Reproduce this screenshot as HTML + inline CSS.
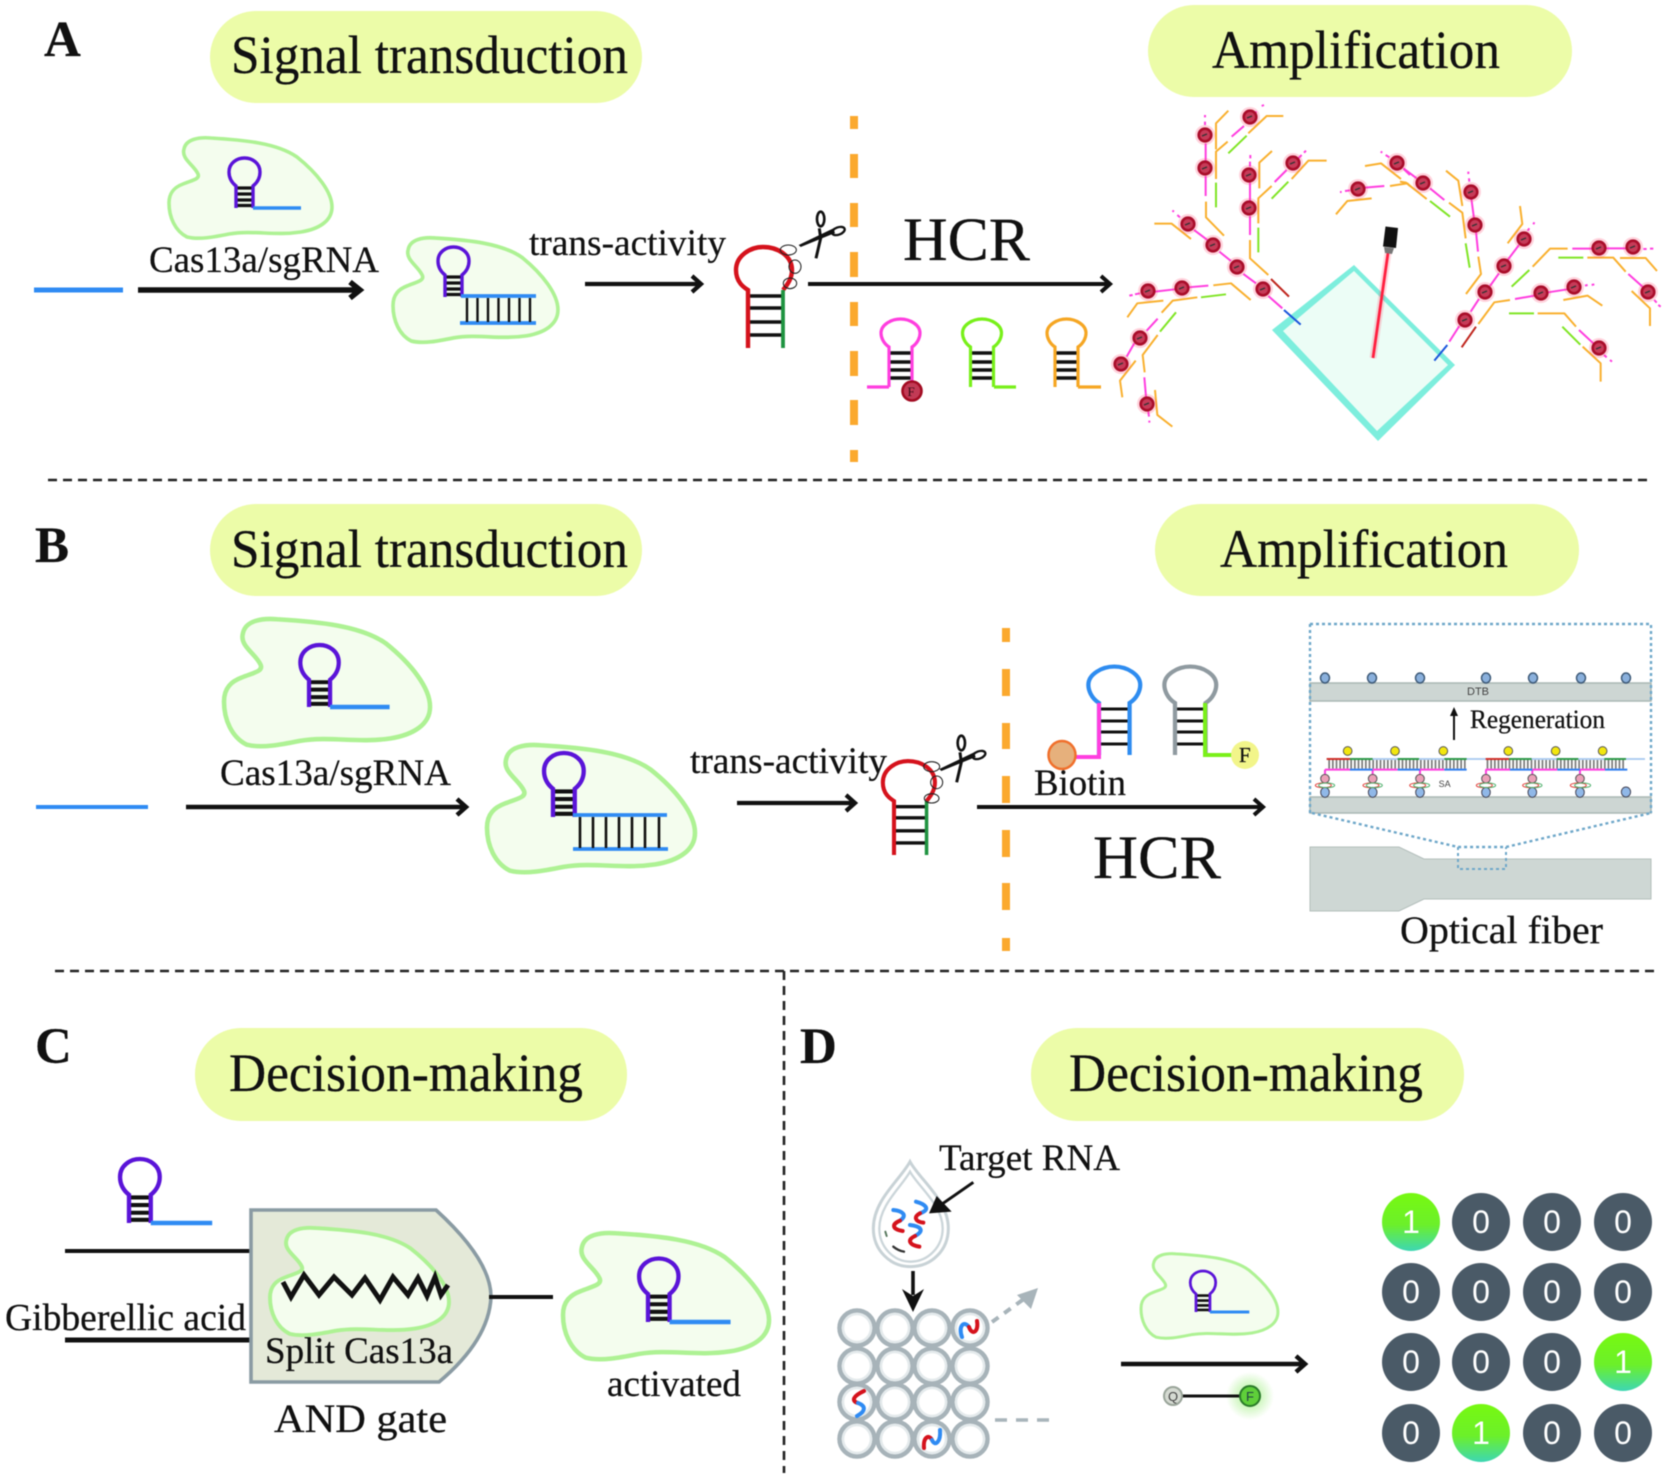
<!DOCTYPE html>
<html>
<head>
<meta charset="utf-8">
<style>
html,body{margin:0;padding:0;background:#fff}
svg{display:block;filter:blur(.45px)}
text{font-family:"Liberation Serif",serif;fill:#111;stroke:#111;stroke-width:.25px}
.b{font-weight:bold;font-size:51px}
.h{font-size:54px}
.m{font-size:37px}
.o{stroke:#f9b02f;stroke-width:6;fill:none;stroke-linejoin:round}
.g{stroke:#80e526;stroke-width:6;fill:none}
.p{stroke:#ff3edf;stroke-width:6;fill:none}
.r{stroke:#c0271f;stroke-width:6;fill:none}
.bl{stroke:#1a55dc;stroke-width:6;fill:none}
.w{fill:#fff;stroke:none;font-family:"Liberation Sans",sans-serif}
</style>
</head>
<body>
<svg xmlns="http://www.w3.org/2000/svg" width="1673" height="1478" viewBox="0 0 1673 1478">
<defs>
<path id="blob" d="M15,12 C17,2 30,0 42,1 C75,3 108,6 128,20 C148,36 163,55 163,70 C163,84 150,92 132,95 C105,99 85,93 60,97 C45,100 30,103 18,100 C6,94 0,80 0,66 C0,55 6,50 14,47 C24,43 31,42 29,37 C25,28 12,22 15,12 Z" fill="#f4fdee" stroke="#aef294" stroke-width="3.6"/>
<g id="hp">
<path d="M0,-20H17M0,-14H17M0,-8H17M0,-2.5H17" stroke="#111" stroke-width="3.2" fill="none"/>
<path d="M0,0 V-22 C-5,-26 -7,-31 -7,-36 C-7,-45 1,-50 8.5,-50 C16,-50 24,-45 24,-36 C24,-31 22,-26 17,-22 V0" stroke="#5a14d8" stroke-width="3.4" fill="none"/>
</g>
<g id="hpt">
<use href="#hp"/>
<path d="M17,0H65" stroke="#2f8bf3" stroke-width="3.6" fill="none"/>
</g>
<path id="lp" d="M0,0 V-40 C-6,-44 -8,-50 -8,-54 C-8,-62 2,-68 11.5,-68 C21,-68 31,-62 31,-54 C31,-50 29,-44 23,-40 V0" fill="none" stroke-width="3.2"/>
<g id="rh">
<path d="M0,-52H35M0,-40H35M0,-26H35M0,-13H35" stroke="#111" stroke-width="3.6"/>
<path d="M0,0 V-58 C-3,-60 -12,-65 -12,-78 C-12,-92 2,-101 15,-101 C30,-101 44,-92 44,-78 C44,-70 40,-64 35,-58" fill="none" stroke="#d5121c" stroke-width="4.4"/>
<path d="M35,-58V0" stroke="#1f9340" stroke-width="3.8"/>
</g>
<g id="sc" fill="none" stroke="#111">
<polygon points="236,150 340,100 345,114 242,156" fill="#111" stroke="none"/>
<ellipse cx="355" cy="108" rx="20" ry="11" transform="rotate(-20 355 108)" stroke-width="7"/>
<path d="M288,190 L302,130 L298,100" stroke-width="9"/>
<ellipse cx="302" cy="72" rx="11" ry="22" stroke-width="8"/>
</g>
<g id="dot">
<circle r="10" fill="#ff5078" opacity=".25"/>
<circle r="6.3" fill="#c63b58" stroke="#a90d2a" stroke-width="2.6"/>
<path d="M-3,1L2,-1" stroke="#333" stroke-width="1.4"/>
</g>
<g id="wc">
<circle r="17.5" fill="#fff" stroke="#a7b3b9" stroke-width="4.5"/>
<circle r="14" fill="none" stroke="#e4eaec" stroke-width="2.5"/>
</g>
<linearGradient id="gg" x1="0" y1="0" x2="0" y2="1"><stop offset="0" stop-color="#77f911"/><stop offset=".55" stop-color="#6cf02a"/><stop offset="1" stop-color="#3dd7b4"/></linearGradient>
<radialGradient id="gl"><stop offset="0" stop-color="#7ae84f" stop-opacity=".65"/><stop offset="1" stop-color="#7ae84f" stop-opacity="0"/></radialGradient>
</defs>

<!-- pills -->
<g fill="#ecfca8">
<rect x="210" y="11" width="432" height="92" rx="46"/>
<rect x="1148" y="5" width="424" height="92" rx="46"/>
<rect x="210" y="504" width="432" height="92" rx="46"/>
<rect x="1155" y="504" width="424" height="92" rx="46"/>
<rect x="195" y="1028" width="432" height="93" rx="46"/>
<rect x="1031" y="1028" width="433" height="93" rx="46"/>
</g>
<text class="h" x="231" y="73" textLength="397" lengthAdjust="spacingAndGlyphs">Signal transduction</text>
<text class="h" x="1212" y="68" textLength="288" lengthAdjust="spacingAndGlyphs">Amplification</text>
<text class="h" x="231" y="567" textLength="397" lengthAdjust="spacingAndGlyphs">Signal transduction</text>
<text class="h" x="1220" y="567" textLength="288" lengthAdjust="spacingAndGlyphs">Amplification</text>
<text class="h" x="229" y="1091" textLength="354" lengthAdjust="spacingAndGlyphs">Decision-making</text>
<text class="h" x="1069" y="1091" textLength="354" lengthAdjust="spacingAndGlyphs">Decision-making</text>
<text class="b" x="44" y="56">A</text>
<text class="b" x="35" y="562">B</text>
<text class="b" x="35" y="1063">C</text>
<text class="b" x="800" y="1063">D</text>

<!-- separators -->
<g stroke="#222" stroke-width="2.6" fill="none" stroke-dasharray="9 6">
<path d="M48,480H1652"/>
<path d="M55,971H1660"/>
<path d="M784,971V1473"/>
</g>

<!-- orange dashed -->
<g fill="#fba92e">
<rect x="850" y="116" width="8" height="13"/><rect x="850" y="154" width="8" height="24"/><rect x="850" y="203" width="8" height="24"/><rect x="850" y="252" width="8" height="25"/><rect x="850" y="302" width="8" height="24"/><rect x="850" y="351" width="8" height="25"/><rect x="850" y="400" width="8" height="25"/><rect x="850" y="450" width="8" height="12"/>
<rect x="1002" y="628" width="8" height="14"/><rect x="1002" y="669" width="8" height="27"/><rect x="1002" y="723" width="8" height="26"/><rect x="1002" y="776" width="8" height="27"/><rect x="1002" y="830" width="8" height="27"/><rect x="1002" y="883" width="8" height="27"/><rect x="1002" y="938" width="8" height="13"/>
</g>

<!-- Panel A left -->
<path d="M34,290H123" stroke="#2f8bf3" stroke-width="5"/>
<use href="#blob" transform="translate(169,137)"/>
<use href="#hpt" transform="translate(236,208)"/>
<path d="M138,290H360M350,282L360,290L350,298" stroke="#111" stroke-width="5.5" fill="none"/>
<text class="m" x="149" y="272" textLength="230" lengthAdjust="spacingAndGlyphs">Cas13a/sgRNA</text>
<use href="#blob" transform="translate(393,237) scale(1.012,1.04)"/>
<use href="#hp" transform="translate(445,297)"/>
<path d="M461,296H536M460,323H536" stroke="#2f8bf3" stroke-width="3.8"/>
<path d="M467,298V322M477.500,298V322M488,298V322M498.500,298V322M509,298V322M519.500,298V322M530,298V322" stroke="#111" stroke-width="2.4"/>
<text class="m" x="529" y="255" textLength="197" lengthAdjust="spacingAndGlyphs">trans-activity</text>
<path d="M585,284H700M692,276L701,284L692,292" stroke="#111" stroke-width="4.2" fill="none"/>
<use href="#rh" transform="translate(748,348)"/>
<g transform="translate(720,195) scale(.3333)">
<use href="#sc"/>
<g fill="none" stroke="#222" stroke-width="3.2">
<ellipse cx="205" cy="165" rx="24" ry="15"/><ellipse cx="225" cy="215" rx="18" ry="20"/><ellipse cx="210" cy="265" rx="20" ry="16"/>
</g>
</g>
<path d="M808,284H1109M1101,276L1110,284L1101,292" stroke="#111" stroke-width="4" fill="none"/>
<text x="903" y="260" font-size="61" textLength="127" lengthAdjust="spacingAndGlyphs">HCR</text>

<!-- A hairpins -->
<g>
<path d="M889,353H912M889,362H912M889,370H912M889,378H912" stroke="#111" stroke-width="3.6"/>
<use href="#lp" transform="translate(889,387)" stroke="#ff3edf"/>
<path d="M867,387H889" stroke="#ff3edf" stroke-width="3.2"/>
<circle cx="912" cy="391" r="9.5" fill="#c23a55" stroke="#a20b22" stroke-width="2.6"/>
<text x="907.500" y="396" font-size="13" style="fill:#3a0a14;stroke:none">F</text>
<path d="M970,353H994M970,362H994M970,370H994M970,378H994" stroke="#111" stroke-width="3.6"/>
<use href="#lp" transform="translate(970.500,387)" stroke="#78f01a"/>
<path d="M994,387H1016" stroke="#78f01a" stroke-width="3.2"/>
<path d="M1055,353H1078M1055,362H1078M1055,370H1078M1055,378H1078" stroke="#111" stroke-width="3.6"/>
<use href="#lp" transform="translate(1055,387)" stroke="#f5a623"/>
<path d="M1078,387H1101" stroke="#f5a623" stroke-width="3.2"/>
</g>

<!-- Diamond -->
<polygon points="1354,265 1455,365 1378,441 1272,330" fill="#7deedd"/>
<polygon points="1354,271 1448,365 1377,431 1283,331" fill="#ecfdf6"/>
<!-- laser -->
<path d="M1388,253L1373,358" stroke="#ff5070" stroke-width="7" opacity=".22"/>
<path d="M1388,253L1373,358" stroke="#ff1f3f" stroke-width="2.8"/>
<polygon points="1385.500,226.500 1398,228 1396,248 1383,246.500" fill="#111"/>
<polygon points="1384,247 1394,248 1392,254 1385,253" fill="#777"/>

<!-- Tree left (zoom coords) -->
<g transform="translate(1120,100) scale(.3333)">
<path class="o" d="M325,32L288,70V148M490,48H440L385,100M323,125L288,155V237M258,305V352L312,407M456,153L418,188V265M620,182H565L515,237M455,258L415,295V370M390,420V475L445,525M103,371H155L213,417M280,556L333,550L392,600M130,602L52,610L22,652M232,592L158,602L125,638M113,705L68,765L74,817M47,782L0,842L7,892M105,870L112,945L157,980M735,198L783,190L843,237M810,258L862,250L870,258M755,295L682,303L648,343"/>
<path class="g" d="M288,248V322M380,107L325,160M505,245L455,296M415,383V457M243,592L318,583M168,637L120,695"/>
<path class="p" d="M255,45V52M255,65V75M257,130V185M257,228V288M432,15L425,18M410,35L400,42M372,78L335,110M391,165V175M390,185V200M390,248V305M390,348V405M558,152L552,158M545,165L535,175M500,210L464,246M157,332L162,335M172,345L180,352M222,390L262,420M298,455L333,483M370,522L408,550M445,588L487,625M28,587L38,585M45,583L60,580M105,575L165,568M205,562L265,557M113,656L80,692M43,730L20,770M73,832L78,890M85,935L87,950M88,962V968M660,276L665,276M675,273L690,271M735,263L793,258M782,155L787,158M797,165L808,172M852,208L870,225"/>
<path class="r" d="M453,537L507,590"/>
<path class="bl" d="M492,630L542,674"/>
</g>
<!-- Tree right -->
<g transform="translate(1400,130) scale(.3333)">
<path class="o" d="M138,122L175,152L187,228M323,340L367,282L360,228M147,218L187,248L197,325M0,155L18,158L80,207M398,410L450,356H503M235,380L243,432L198,492M235,582L283,517L330,510M490,510L563,497L607,527M413,550H493L528,590M562,383H640L677,425M660,384H737L771,423M695,483L750,535V588M548,650L602,700V755"/>
<path class="g" d="M197,340L209,413M90,213L150,260M388,420L335,470M475,383H550M327,550H402M487,590L541,644"/>
<path class="p" d="M205,125V132M207,145L208,155M214,205L222,265M228,305L234,365M10,115L50,145M90,175L133,210M403,277L400,283M388,295L383,302M357,345L323,390M297,430L270,468M237,507L212,545M178,588L148,635M345,507L404,497M445,487L503,478M555,467L563,465M575,465L583,463M517,356H578M618,355H678M730,357H740M750,356H760M685,432L730,472M763,510L770,518M775,525L782,530M537,600L580,640M612,675L620,682M630,690L636,695"/>
<path class="r" d="M228,590L185,652"/>
<path class="bl" d="M142,645L103,692"/>
</g>
<!-- red dots -->
<use href="#dot" x="1205" y="135"/><use href="#dot" x="1205" y="168"/><use href="#dot" x="1250" y="117"/><use href="#dot" x="1249" y="175"/><use href="#dot" x="1249" y="208"/><use href="#dot" x="1293" y="163"/><use href="#dot" x="1188" y="224"/><use href="#dot" x="1213" y="245"/><use href="#dot" x="1237" y="267"/><use href="#dot" x="1263" y="289"/><use href="#dot" x="1148" y="291"/><use href="#dot" x="1182" y="288"/><use href="#dot" x="1140" y="338"/><use href="#dot" x="1121" y="364"/><use href="#dot" x="1147" y="404"/><use href="#dot" x="1358" y="189"/><use href="#dot" x="1397" y="163"/><use href="#dot" x="1423" y="183"/><use href="#dot" x="1471" y="192"/><use href="#dot" x="1475" y="225"/><use href="#dot" x="1524" y="239"/><use href="#dot" x="1504" y="266"/><use href="#dot" x="1485" y="292"/><use href="#dot" x="1465" y="320"/><use href="#dot" x="1541" y="293"/><use href="#dot" x="1574" y="287"/><use href="#dot" x="1599" y="248"/><use href="#dot" x="1633" y="247"/><use href="#dot" x="1648" y="292"/><use href="#dot" x="1599" y="348"/>

<!-- Panel B left -->
<path d="M36,807H148" stroke="#2f8bf3" stroke-width="4"/>
<use href="#blob" transform="translate(224,618) scale(1.264,1.267)"/>
<use href="#hpt" transform="translate(309,707) scale(1.24)"/>
<path d="M186,807H465M457,799L466,807L457,815" stroke="#111" stroke-width="4.5" fill="none"/>
<text class="m" x="220" y="785" textLength="231" lengthAdjust="spacingAndGlyphs">Cas13a/sgRNA</text>
<use href="#blob" transform="translate(487,744) scale(1.276,1.267)"/>
<use href="#hp" transform="translate(553,817) scale(1.28)"/>
<path d="M573,815H667M573,849H668" stroke="#2f8bf3" stroke-width="3.8"/>
<path d="M580,817V848M593,817V848M606,817V848M619,817V848M632,817V848M645,817V848M659,817V848" stroke="#111" stroke-width="2.6"/>
<text class="m" x="690" y="773" textLength="197" lengthAdjust="spacingAndGlyphs">trans-activity</text>
<path d="M737,803H854M846,795L855,803L846,811" stroke="#111" stroke-width="4.2" fill="none"/>
<use href="#rh" transform="translate(894,855) scale(.93)"/>
<g transform="translate(860,720) scale(.3333)">
<use href="#sc" transform="translate(2,-3)"/>
<g fill="none" stroke="#222" stroke-width="3.2">
<ellipse cx="215" cy="140" rx="24" ry="15"/><ellipse cx="230" cy="187" rx="18" ry="19"/><ellipse cx="215" cy="235" rx="22" ry="14"/>
</g>
</g>
<path d="M977,807H1262M1254,799L1263,807L1254,815" stroke="#111" stroke-width="4" fill="none"/>
<text class="m" x="1034" y="795" textLength="92" lengthAdjust="spacingAndGlyphs">Biotin</text>
<text x="1093" y="878" font-size="61" textLength="128" lengthAdjust="spacingAndGlyphs">HCR</text>

<!-- B hairpins -->
<path d="M1099,709H1130M1099,721H1130M1099,732H1130M1099,744H1130" stroke="#111" stroke-width="3"/>
<use href="#lp" transform="translate(1099,755) scale(1.33,1.3)" stroke="#2e8cf0"/>
<path d="M1099,703V757H1076" stroke="#ff3edf" stroke-width="4" fill="none"/>
<ellipse cx="1062" cy="755" rx="13.500" ry="14" fill="#e6b07c" stroke="#f0702c" stroke-width="2.5"/>
<path d="M1175,709H1205M1175,721H1205M1175,732H1205M1175,744H1205" stroke="#111" stroke-width="3"/>
<use href="#lp" transform="translate(1175,755) scale(1.33,1.3)" stroke="#8f9aa0"/>
<path d="M1205,703V755H1232" stroke="#7af01a" stroke-width="4" fill="none"/>
<circle cx="1245" cy="755" r="14" fill="#f2f58a"/>
<text x="1239" y="762" font-size="21">F</text>

<!-- Fiber panel -->
<rect x="1310" y="683" width="341" height="18" fill="#cdd6d3" stroke="#aab7b4" stroke-width="1.5"/>
<rect x="1310" y="797" width="341" height="16" fill="#cdd6d3" stroke="#aab7b4" stroke-width="1.5"/>
<path d="M1310,624H1651V813M1310,624V813M1312,813L1458,847H1506L1651,813" fill="none" stroke="#6ea7c9" stroke-width="2.4" stroke-dasharray="3 3"/>
<polygon points="1310,847 1399,847 1424,859 1651,859 1651,899 1424,899 1399,911 1310,911" fill="#ced7d4" stroke="#b4bfbc" stroke-width="1"/>
<path d="M1458,847V869H1506V847" fill="none" stroke="#6ea7c9" stroke-width="2" stroke-dasharray="3 3"/>
<text x="1467" y="695" font-size="11" style="font-family:'Liberation Sans',sans-serif;fill:#444;stroke:none">DTB</text>
<g fill="#8ab0dc" stroke="#3e5a78" stroke-width="1.5">
<ellipse cx="1325" cy="678" rx="4.5" ry="5"/><ellipse cx="1372" cy="678" rx="4.5" ry="5"/><ellipse cx="1420" cy="678" rx="4.5" ry="5"/><ellipse cx="1486" cy="678" rx="4.5" ry="5"/><ellipse cx="1533" cy="678" rx="4.5" ry="5"/><ellipse cx="1581" cy="678" rx="4.5" ry="5"/><ellipse cx="1626" cy="678" rx="4.5" ry="5"/>
</g>
<path d="M1454,740V714" stroke="#111" stroke-width="2"/>
<polygon points="1454,707 1450,716 1458,716" fill="#111"/>
<text x="1470" y="728" font-size="26" textLength="135" lengthAdjust="spacingAndGlyphs">Regeneration</text>
<g transform="translate(1300,680) scale(.3333)">
<path d="M85,253H498M560,253H978" stroke="#777" stroke-width="26" stroke-dasharray="5 6" fill="none"/>
<path d="M80,237H1035" stroke="#a6c8f0" stroke-width="5"/>
<g stroke-width="6" fill="none">
<path d="M80,237H150M557,237H627" stroke="#d0302a"/>
<path d="M150,237H218M293,237H357M433,237H500M627,237H695M770,237H835M913,237H978" stroke="#2f9a4a"/>
<path d="M75,269H150M218,269H293M360,269H433M557,269H630M697,269H772M840,269H915M75,269V285M218,269V285M360,269V285M558,269V285M697,269V285M840,269V285" stroke="#ff3edf"/>
<path d="M150,269H218M293,269H360M433,269H500M630,269H697M772,269H840M915,269H982" stroke="#2f7ef0"/>
</g>
<g fill="#f2e60f" stroke="#555" stroke-width="3">
<circle cx="143" cy="213" r="13"/><circle cx="285" cy="213" r="13"/><circle cx="430" cy="213" r="13"/><circle cx="625" cy="213" r="13"/><circle cx="767" cy="213" r="13"/><circle cx="908" cy="213" r="13"/>
</g>
<g fill="#eba0b8" stroke="#555" stroke-width="3">
<circle cx="75" cy="296" r="13"/><circle cx="218" cy="296" r="13"/><circle cx="360" cy="296" r="13"/><circle cx="558" cy="296" r="13"/><circle cx="697" cy="296" r="13"/><circle cx="840" cy="296" r="13"/>
</g>
<g fill="#90b8e8" stroke="#445" stroke-width="3">
<ellipse cx="75" cy="337" rx="13" ry="15"/><ellipse cx="218" cy="337" rx="13" ry="15"/><ellipse cx="360" cy="337" rx="13" ry="15"/><ellipse cx="558" cy="337" rx="13" ry="15"/><ellipse cx="697" cy="337" rx="13" ry="15"/><ellipse cx="840" cy="337" rx="13" ry="15"/><ellipse cx="978" cy="336" rx="14" ry="15"/>
</g>
<g fill="none" stroke="#e0403a" stroke-width="3">
<ellipse cx="70" cy="316" rx="24" ry="7"/><ellipse cx="213" cy="316" rx="24" ry="7"/><ellipse cx="353" cy="316" rx="24" ry="7"/><ellipse cx="553" cy="316" rx="24" ry="7"/><ellipse cx="692" cy="316" rx="24" ry="7"/><ellipse cx="835" cy="316" rx="24" ry="7"/>
</g>
<g fill="none" stroke="#4caf6a" stroke-width="3">
<ellipse cx="80" cy="316" rx="24" ry="7"/><ellipse cx="223" cy="316" rx="24" ry="7"/><ellipse cx="365" cy="316" rx="24" ry="7"/><ellipse cx="563" cy="316" rx="24" ry="7"/><ellipse cx="702" cy="316" rx="24" ry="7"/><ellipse cx="848" cy="316" rx="24" ry="7"/>
</g>
<text x="416" y="321" font-size="27" style="font-family:'Liberation Sans',sans-serif;fill:#444;stroke:none">SA</text>
</g>
<text x="1400" y="943" font-size="39" textLength="203" lengthAdjust="spacingAndGlyphs">Optical fiber</text>

<!-- Panel C -->
<use href="#hpt" transform="translate(129,1223) scale(1.28)"/>
<path d="M65,1251H251" stroke="#111" stroke-width="4"/>
<path d="M65,1340H251" stroke="#111" stroke-width="5"/>
<path d="M251,1210H436Q491,1260 491,1297Q489,1340 439,1382H251Z" fill="#e4e9d8" stroke="#8a9ba3" stroke-width="3.6"/>
<use href="#blob" transform="translate(270,1227) scale(1.098,1.069)"/>
<path d="M283,1282L291,1297L304,1275L319,1295L334,1277L352,1295L365,1278L380,1300L393,1277L408,1295L418,1278L427,1296L435,1277L441,1295L448,1285" fill="none" stroke="#111" stroke-width="5"/>
<path d="M489,1297H553" stroke="#111" stroke-width="4"/>
<text x="5" y="1330" font-size="38" textLength="241" lengthAdjust="spacingAndGlyphs">Gibberellic acid</text>
<text x="265" y="1363" font-size="37" textLength="188" lengthAdjust="spacingAndGlyphs">Split Cas13a</text>
<text x="274" y="1432" font-size="40" textLength="173" lengthAdjust="spacingAndGlyphs">AND gate</text>
<use href="#blob" transform="translate(563,1232) scale(1.264,1.257)"/>
<use href="#hpt" transform="translate(648,1322) scale(1.27)"/>
<text x="607" y="1396" font-size="37" textLength="134" lengthAdjust="spacingAndGlyphs">activated</text>

<!-- Panel D: drop -->
<text x="939" y="1170" class="m" textLength="181" lengthAdjust="spacingAndGlyphs">Target RNA</text>
<g transform="translate(860,1150) scale(.3333)">
<path d="M150,35C120,90 40,150 40,235C40,300 90,350 152,350C215,350 265,300 265,235C265,150 180,90 150,35Z" fill="#fff" stroke="#c8d2d6" stroke-width="9"/>
<path d="M150,65C125,110 58,165 58,235C58,290 100,335 152,335C205,335 248,290 248,235C248,165 175,110 150,65Z" fill="#fff" stroke="#ccd6da" stroke-width="7"/>
<g fill="none" stroke-width="12" stroke-linecap="round">
<path d="M100,180C125,182 145,195 120,212" stroke="#2f8bf3"/>
<path d="M120,212C95,222 95,238 128,243" stroke="#d5121c"/>
<path d="M168,155C195,162 215,178 180,190" stroke="#2f8bf3"/>
<path d="M180,190C160,200 165,215 190,218" stroke="#d5121c"/>
<path d="M150,225C178,228 198,240 165,258" stroke="#2f8bf3"/>
<path d="M165,258C140,270 148,285 178,290" stroke="#d5121c"/>
<path d="M76,245L80,258" stroke="#5a7a60" stroke-width="6"/>
<path d="M100,290C110,298 120,303 132,305" stroke="#333" stroke-width="7"/>
</g>
<path d="M340,97L232,172" stroke="#111" stroke-width="9"/>
<polygon points="207,190 230,138 275,185" fill="#111"/>
</g>
<path d="M913,1271V1295" stroke="#111" stroke-width="3.6"/>
<polygon points="913,1312 902,1289 913,1296 924,1289" fill="#111"/>
<!-- wells -->
<use href="#wc" x="857" y="1328"/><use href="#wc" x="895" y="1328"/><use href="#wc" x="932" y="1328"/><use href="#wc" x="970" y="1328"/>
<use href="#wc" x="857" y="1366"/><use href="#wc" x="895" y="1366"/><use href="#wc" x="932" y="1366"/><use href="#wc" x="970" y="1366"/>
<use href="#wc" x="857" y="1402"/><use href="#wc" x="895" y="1402"/><use href="#wc" x="932" y="1402"/><use href="#wc" x="970" y="1402"/>
<use href="#wc" x="857" y="1439"/><use href="#wc" x="895" y="1439"/><use href="#wc" x="932" y="1439"/><use href="#wc" x="970" y="1439"/>
<g fill="none" stroke-width="4" stroke-linecap="round">
<path d="M962,1337C958,1326 964,1320 969,1327" stroke="#2f8bf3"/><path d="M969,1327C972,1336 979,1332 977,1321" stroke="#d5121c"/>
<path d="M864,1391C853,1396 851,1401 858,1403" stroke="#d5121c"/><path d="M858,1403C866,1406 866,1411 857,1416" stroke="#2f8bf3"/>
<path d="M924,1448C923,1437 929,1434 932,1440" stroke="#d5121c"/><path d="M932,1440C935,1447 941,1442 940,1430" stroke="#2f8bf3"/>
</g>
<path d="M992,1322L1028,1296" stroke="#a8b4ba" stroke-width="4" stroke-dasharray="8 7" fill="none"/>
<polygon points="1038,1288 1017,1295 1031,1309" fill="#a8b4ba"/>
<path d="M995,1420H1053" stroke="#a8b4ba" stroke-width="3.6" stroke-dasharray="12 9"/>
<!-- D middle -->
<use href="#blob" transform="translate(1141,1253) scale(.84,.842)"/>
<use href="#hpt" transform="translate(1196,1312) scale(.82)"/>
<path d="M1121,1364H1304M1296,1356L1305,1364L1296,1372" stroke="#111" stroke-width="4.5" fill="none"/>
<circle cx="1250" cy="1396" r="24" fill="url(#gl)"/>
<path d="M1173,1396H1250" stroke="#111" stroke-width="3"/>
<circle cx="1173" cy="1396" r="9" fill="#d5dad2" stroke="#9aa59a" stroke-width="2"/>
<circle cx="1250" cy="1396" r="10" fill="#5fcf3a" stroke="#2a7a2a" stroke-width="2"/>
<text x="1168" y="1401" font-size="13" style="font-family:'Liberation Sans',sans-serif;fill:#444;stroke:none">Q</text>
<text x="1246" y="1401" font-size="13" style="font-family:'Liberation Sans',sans-serif;fill:#244;stroke:none">F</text>
<!-- Digit grid -->
<g fill="#4a5a67">
<circle cx="1411" cy="1222" r="29" fill="url(#gg)"/><circle cx="1481" cy="1222" r="29"/><circle cx="1552" cy="1222" r="29"/><circle cx="1623" cy="1222" r="29"/>
<circle cx="1411" cy="1292" r="29"/><circle cx="1481" cy="1292" r="29"/><circle cx="1552" cy="1292" r="29"/><circle cx="1623" cy="1292" r="29"/>
<circle cx="1411" cy="1362" r="29"/><circle cx="1481" cy="1362" r="29"/><circle cx="1552" cy="1362" r="29"/><circle cx="1623" cy="1362" r="29" fill="url(#gg)"/>
<circle cx="1411" cy="1433" r="29"/><circle cx="1481" cy="1433" r="29" fill="url(#gg)"/><circle cx="1552" cy="1433" r="29"/><circle cx="1623" cy="1433" r="29"/>
</g>
<g font-size="32" text-anchor="middle">
<text class="w" x="1411" y="1233">1</text><text class="w" x="1481" y="1233">0</text><text class="w" x="1552" y="1233">0</text><text class="w" x="1623" y="1233">0</text>
<text class="w" x="1411" y="1303">0</text><text class="w" x="1481" y="1303">0</text><text class="w" x="1552" y="1303">0</text><text class="w" x="1623" y="1303">0</text>
<text class="w" x="1411" y="1373">0</text><text class="w" x="1481" y="1373">0</text><text class="w" x="1552" y="1373">0</text><text class="w" x="1623" y="1373">1</text>
<text class="w" x="1411" y="1444">0</text><text class="w" x="1481" y="1444">1</text><text class="w" x="1552" y="1444">0</text><text class="w" x="1623" y="1444">0</text>
</g>
</svg>
</body>
</html>
